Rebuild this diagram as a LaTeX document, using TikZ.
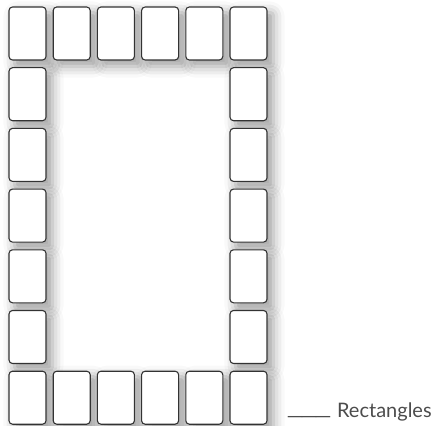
\documentclass[tikz,border=0pt]{standalone}
\usepackage{fontspec}
\setmainfont{Lato}
\newfontfamily\barfont{DejaVu Sans}
\usetikzlibrary{shadows.blur}
\pgfdeclarelayer{background}
\pgfsetlayers{background,main}

\begin{document}
\begin{tikzpicture}[
        x=1pt, y=-1pt,
        card/.style={draw=black!80, line width=1.1pt, fill=white, rounded corners=3.5pt,
            minimum width=37pt, minimum height=53pt, inner sep=0pt},
        cardshadow/.style={rounded corners=3.5pt,
            blur shadow={shadow xshift=6pt, shadow yshift=-6pt, shadow blur radius=11pt, shadow opacity=38}}
    ]
        \useasboundingbox (0,0) rectangle (435,425);

        % top and bottom rows
        \foreach \c [evaluate=\c as \cx using 27.5+44.2*(\c-1)] in {1,...,6} {
            \node[card] (top\c) at (\cx,33.5) {};
            \node[card] (bot\c) at (\cx,397.7) {};
        }
        % left and right columns
        \foreach \r [evaluate=\r as \ry using 33.5+60.7*(\r-1)] in {2,...,6} {
            \node[card] (left\r) at (27.5,\ry) {};
            \node[card] (right\r) at (248.5,\ry) {};
        }

        % shadows behind every card
        \begin{pgfonlayer}{background}
            \foreach \n in {top1,top2,top3,top4,top5,top6,bot1,bot2,bot3,bot4,bot5,bot6,
                left2,left3,left4,left5,left6,right2,right3,right4,right5,right6}
                \path[cardshadow] (\n.south west) rectangle (\n.north east);
        \end{pgfonlayer}

        \node[anchor=base west, inner sep=0pt, text=black!70, font=\fontsize{20}{20}\selectfont] (label) at (288,417)
            {\raisebox{3.5pt}{\scalebox{1.55}[1]{\barfont\fontsize{18}{18}\selectfont\_\_\_}}\hspace{7pt}Rectangles};
    \end{tikzpicture}
\end{document}
